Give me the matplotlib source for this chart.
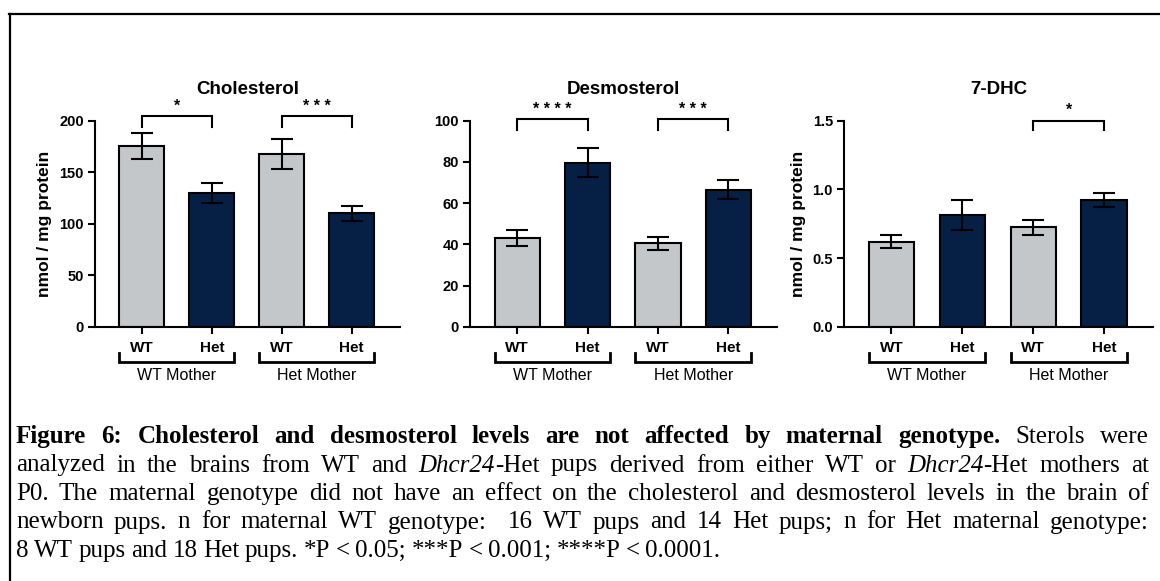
import matplotlib
matplotlib.use("Agg")
import matplotlib.pyplot as plt
import matplotlib.transforms as mtransforms
from matplotlib.lines import Line2D

# bar labels and groups
pups = ["WT", "Het", "WT", "Het"]
mothers = ["WT Mother", "Het Mother"]

# values (mean, SEM)
chol_mean = [175, 130, 168, 110]
chol_sem = [12.5, 9.5, 14.5, 7.5]
desmo_mean = [43, 79.5, 40.5, 66.5]
desmo_sem = [4, 7, 3, 4.5]
dhc_mean = [0.62, 0.815, 0.725, 0.925]
dhc_sem = [0.045, 0.11, 0.055, 0.05]

# significance brackets: (bar a, bar b, stars)
chol_sig = [(0, 1, "*"), (2, 3, "* * *")]
desmo_sig = [(0, 1, "* * * *"), (2, 3, "* * *")]
dhc_sig = [(2, 3, "*")]

GRAY = "#C3C7CA"
NAVY = "#051F45"
W, H = 1160, 581

panels = [
    dict(title="Cholesterol", mean=chol_mean, sem=chol_sem, sig=chol_sig,
         ylim=200, yticks=[0, 50, 100, 150, 200], fmt="{:.0f}", sig_y=204, drop=10,
         left=95, right=400, ylabel=True, lab_x=-0.164),
    dict(title="Desmosterol", mean=desmo_mean, sem=desmo_sem, sig=desmo_sig,
         ylim=100, yticks=[0, 20, 40, 60, 80, 100], fmt="{:.0f}", sig_y=100.5, drop=5,
         left=470, right=777, ylabel=False, lab_x=0),
    dict(title="7-DHC", mean=dhc_mean, sem=dhc_sem, sig=dhc_sig,
         ylim=1.5, yticks=[0.0, 0.5, 1.0, 1.5], fmt="{:.1f}", sig_y=1.5, drop=0.072,
         left=844, right=1153, ylabel=True, lab_x=-0.146),
]

fig = plt.figure(figsize=(W / 100, H / 100), dpi=100)
plt.rcParams["font.family"] = ["Liberation Sans", "DejaVu Sans"]

top_px, bot_px = 120.5, 327
for p in panels:
    ax = fig.add_axes([p["left"] / W, 1 - bot_px / H,
                       (p["right"] - p["left"]) / W, (bot_px - top_px) / H])
    x = list(range(len(pups)))
    colors = [GRAY if g == "WT" else NAVY for g in pups]
    ax.bar(x, p["mean"], width=0.64, color=colors, edgecolor="black", linewidth=1.5,
           yerr=p["sem"], capsize=8,
           error_kw=dict(elinewidth=1.5, capthick=1.5, ecolor="black"), zorder=2)
    ax.set_xlim(-0.67, 3.69)
    ax.set_ylim(0, p["ylim"])
    ax.set_yticks(p["yticks"])
    ax.set_yticklabels([p["fmt"].format(v) for v in p["yticks"]],
                       fontweight="bold", fontsize=10.5)
    ax.set_xticks(x)
    ax.set_xticklabels(pups, fontweight="bold", fontsize=11)
    ax.tick_params(axis="both", width=1.5, length=5, color="black")
    ax.tick_params(axis="x", pad=5)
    ax.tick_params(axis="y", pad=3)
    for s in ["top", "right"]:
        ax.spines[s].set_visible(False)
    for s in ["left", "bottom"]:
        ax.spines[s].set_linewidth(1.5)
    ax.set_title(p["title"], fontweight="bold", fontsize=13.5, pad=19)
    if p["ylabel"]:
        ax.set_ylabel("nmol / mg protein", fontweight="bold", fontsize=12.5, va="center")
        ax.yaxis.set_label_coords(p["lab_x"], 0.5)

    # significance brackets above the bars
    for a, b, stars in p["sig"]:
        y = p["sig_y"]
        ax.plot([a, a, b, b], [y - p["drop"], y, y, y - p["drop"]], color="black",
                lw=1.5, clip_on=False, solid_joinstyle="miter")
        ax.annotate(stars, (0.5 * (a + b), y), xytext=(0, 2), textcoords="offset points",
                    ha="center", va="bottom", fontsize=11.5, fontweight="bold",
                    annotation_clip=False)

    # maternal genotype brackets under the axis
    tr = mtransforms.blended_transform_factory(ax.transData, ax.transAxes)
    for i, m in enumerate(mothers):
        x0, x1 = 2 * i - 0.32, 2 * i + 1 + 0.32
        ax.plot([x0, x0, x1, x1], [-0.128, -0.169, -0.169, -0.128], color="black",
                lw=2, transform=tr, clip_on=False, solid_joinstyle="miter")
        ax.text(2 * i + 0.5, -0.237, m, transform=tr, ha="center", va="center",
                fontsize=11.5)

# frame lines (top and left) of the figure panel
fig.add_artist(Line2D([9 / W, 1], [1 - 13.5 / H] * 2, transform=fig.transFigure,
                      color="black", lw=1.6))
fig.add_artist(Line2D([9.5 / W] * 2, [0, 1 - 13.5 / H], transform=fig.transFigure,
                      color="black", lw=1.6))

# caption, justified by hand
caption = [
    [("Figure 6: Cholesterol and desmosterol levels are not affected by maternal genotype.", "b"),
     (" Sterols were", "n")],
    [("analyzed in the brains from WT and ", "n"), ("Dhcr24", "i"),
     ("-Het pups derived from either WT or ", "n"), ("Dhcr24", "i"), ("-Het mothers at", "n")],
    [("P0. The maternal genotype did not have an effect on the cholesterol and desmosterol "
      "levels in the brain of", "n")],
    [("newborn pups. n for maternal WT genotype:  16 WT pups and 14 Het pups; n for Het "
      "maternal genotype:", "n")],
    [("8 WT pups and 18 Het pups. *P < 0.05; ***P < 0.001; ****P < 0.0001.", "n")],
]
baselines = [443, 471.5, 500, 528.5, 557]
cap_left, cap_right = 16, 1149
cap_size = 18
styles = {"b": dict(fontweight="bold"), "i": dict(fontstyle="italic"), "n": {}}

renderer = fig.canvas.get_renderer()


def run_width(s, st):
    t = fig.text(0, 0, s, fontsize=cap_size, family="Liberation Serif", **styles[st])
    w = t.get_window_extent(renderer).width
    t.remove()
    return w


space_w = cap_size * 100 / 72 * 0.22
for li, runs in enumerate(caption):
    words = [[]]
    for text, st in runs:
        for k, part in enumerate(text.split(" ")):
            if k > 0:
                words.append([])
            if part:
                words[-1].append((part, st))
    widths = [[run_width(s, st) for s, st in wd] for wd in words]
    total = sum(sum(w) for w in widths)
    last = li == len(caption) - 1
    gap = space_w if last else (cap_right - cap_left - total) / (len(words) - 1)
    xpos = cap_left
    for wd, ws in zip(words, widths):
        xx = xpos
        for (s, st), w in zip(wd, ws):
            fig.text(xx / W, 1 - baselines[li] / H, s, fontsize=cap_size,
                     family="Liberation Serif", va="baseline", ha="left", **styles[st])
            xx += w
        xpos = xx + gap

fig.savefig("out.png", dpi=100)
